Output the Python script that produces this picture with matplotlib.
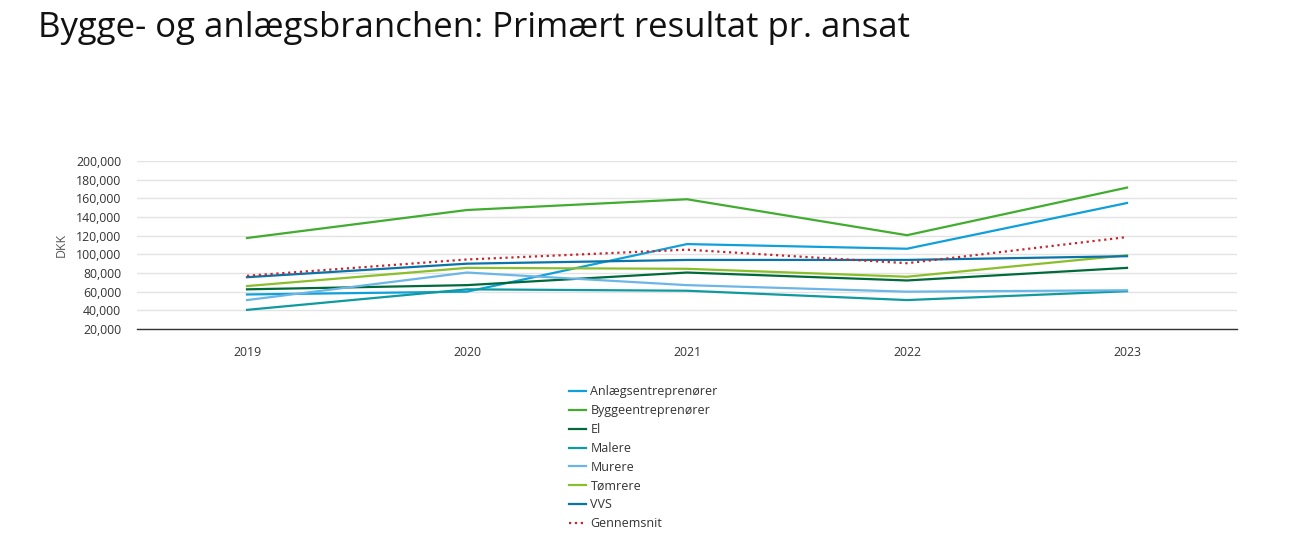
import matplotlib.pyplot as plt
from matplotlib.ticker import FuncFormatter

plt.rcParams['font.family'] = ['Open Sans', 'DejaVu Sans']

# Data
years = [2019, 2020, 2021, 2022, 2023]
anlaeg = [57000, 60000, 111000, 106000, 155000]
bygge = [117500, 147500, 159000, 120500, 171500]
el = [62500, 67000, 80500, 72000, 85500]
malere = [40500, 62500, 61000, 51000, 60500]
murere = [51000, 80500, 67000, 60000, 61500]
toemrere = [66000, 85500, 84500, 76000, 99000]
vvs = [75500, 90000, 94000, 94000, 98000]
gennemsnit = [77000, 94500, 105000, 90500, 118500]

series = [
    ("Anlægsentreprenører", anlaeg, "#0fa0db", "-"),
    ("Byggeentreprenører", bygge, "#40ad2f", "-"),
    ("El", el, "#006a3b", "-"),
    ("Malere", malere, "#0f9aa0", "-"),
    ("Murere", murere, "#6bb6e6", "-"),
    ("Tømrere", toemrere, "#8abf2a", "-"),
    ("VVS", vvs, "#0a73a8", "-"),
    ("Gennemsnit", gennemsnit, "#c4262e", ":"),
]

fig = plt.figure(figsize=(13.14, 5.49), dpi=100)
ax = fig.add_axes([137/1314, 1-329/549, 1100/1314, 168/549])

for name, vals, col, ls in series:
    ax.plot(years, vals, color=col, linestyle=ls, linewidth=1.6, label=name)

ax.set_xlim(2018.5, 2023.5)
ax.set_ylim(20000, 200000)
ax.set_xticks(years)
ax.set_yticks(range(20000, 200001, 20000))
ax.yaxis.set_major_formatter(FuncFormatter(lambda v, p: f"{int(v):,}"))
ax.grid(axis="y", color="#e3e3e3", linewidth=1)
ax.set_axisbelow(True)
for s in ["top", "right", "left"]:
    ax.spines[s].set_visible(False)
ax.spines["bottom"].set_color("#333333")
ax.spines["bottom"].set_linewidth(1)
ax.tick_params(axis="both", length=0, labelsize=8.8, labelcolor="#333333")
ax.tick_params(axis="x", pad=12)
ax.tick_params(axis="y", pad=11.5)
ax.set_ylabel("DKK", fontsize=8.8, color="#555555", labelpad=6)

fig.text(38/1314, 1-28/549, "Bygge- og anlægsbranchen: Primært resultat pr. ansat",
         fontsize=25, va="center", ha="left", color="#111111")

leg = fig.legend(loc="upper left", bbox_to_anchor=(563/1314, 1-379/549), frameon=False,
                 fontsize=9, handlelength=1.3, handletextpad=0.4, labelspacing=0.47,
                 borderpad=0)
for t in leg.get_texts():
    t.set_color("#333333")

plt.savefig("out.png", dpi=100)
